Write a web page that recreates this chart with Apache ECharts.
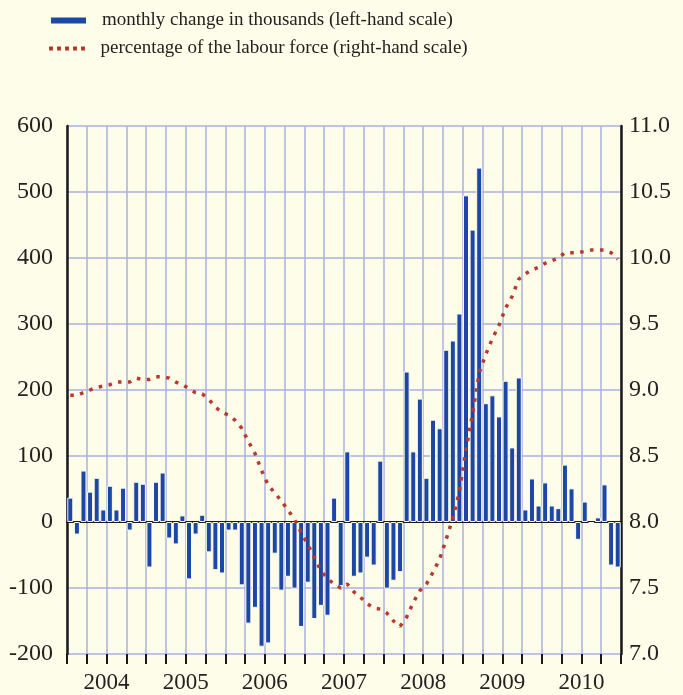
<!DOCTYPE html>
<html>
<head>
<meta charset="utf-8">
<script src="https://cdn.jsdelivr.net/npm/echarts@6/dist/echarts.min.js"></script>
<style>
html, body { margin: 0; padding: 0; background: #fefde9; }
#chart { width: 683px; height: 695px; }
</style>
</head>
<body>
<div id="chart"></div>
<script>
// year labels on the bottom axis
const years = ['2004', '2005', '2006', '2007', '2008', '2009', '2010'];

// one category per month, Jan 2004 .. Dec 2010
const months = [];
years.forEach(function (y) {
  for (let m = 1; m <= 12; m++) months.push(y + '-' + (m < 10 ? '0' + m : m));
});

// monthly change in thousands (left-hand scale)
const monthlyChange = [
  37, -19, 78, 46, 67, 19, 55, 19, 52, -13, 61, 58,
  -69, 61, 75, -25, -34, 10, -87, -19, 11, -46, -73, -78,
  -13, -13, -96, -154, -130, -189, -184, -48, -104, -83, -101, -159,
  -92, -147, -127, -142, 37, -97, 107, -83, -78, -54, -66, 93,
  -101, -89, -76, 228, 107, 187, 67, 155, 142, 261, 275, 316,
  495, 443, 537, 180, 192, 160, 214, 113, 219, 19, 66, 25,
  60, 25, 21, 87, 51, -27, 31, -3, 7, 57, -66, -69
];

// percentage of the labour force (right-hand scale)
const labourForcePct = [
  8.96, 8.96, 8.98, 9.00, 9.02, 9.03, 9.04, 9.06, 9.06, 9.06, 9.09, 9.08,
  9.08, 9.10, 9.10, 9.09, 9.06, 9.04, 9.01, 8.98, 8.97, 8.93, 8.87, 8.83,
  8.81, 8.77, 8.71, 8.61, 8.52, 8.39, 8.28, 8.22, 8.16, 8.09, 8.02, 7.92,
  7.83, 7.73, 7.63, 7.57, 7.53, 7.50, 7.53, 7.47, 7.43, 7.38, 7.35, 7.34,
  7.31, 7.25, 7.21, 7.28, 7.39, 7.48, 7.53, 7.62, 7.72, 7.87, 8.03, 8.23,
  8.55, 8.82, 9.13, 9.27, 9.39, 9.49, 9.62, 9.71, 9.84, 9.88, 9.91, 9.93,
  9.96, 9.98, 10.00, 10.04, 10.04, 10.04, 10.05, 10.06, 10.06, 10.06, 10.04, 9.99
];

const barName = 'monthly change in thousands (left-hand scale)';
const lineName = 'percentage of the labour force (right-hand scale)';

const serif = '"Liberation Serif", "DejaVu Serif", serif';
const gridBlue = '#aab0df';
const ink = '#1a1a1a';
const barBlue = '#1d47a7';
const dotRed = '#b8392f';

// five small squares for the dotted legend key
const dotsIcon = 'path://M0,0h4v4h-4zM8,0h4v4h-4zM16,0h4v4h-4zM24,0h4v4h-4zM32,0h4v4h-4z';

let myChart = echarts.init(document.getElementById('chart'));
myChart.setOption({
  backgroundColor: '#fefde9',
  animation: false,
  legend: [
    {
      left: 49, top: 11, padding: 0,
      itemWidth: 37, itemHeight: 8,
      textStyle: { fontFamily: serif, fontSize: 19, color: '#222', padding: [0, 0, 0, 10] },
      data: [{ name: barName, icon: 'rect' }]
    },
    {
      left: 49, top: 39, padding: 0,
      itemWidth: 37, itemHeight: 4,
      textStyle: { fontFamily: serif, fontSize: 19, color: '#222', padding: [0, 0, 0, 10] },
      data: [{ name: lineName, icon: dotsIcon, itemStyle: { color: dotRed } }]
    }
  ],
  grid: { left: 67, right: 62, top: 126, bottom: 41 },
  xAxis: [
    {
      type: 'category',
      data: months,
      axisLine: { onZero: true, lineStyle: { color: ink, width: 2 } },
      axisTick: { show: false },
      axisLabel: { show: false },
      splitLine: { show: false }
    },
    {
      // quarterly grid and ticks, year labels centred in each year
      type: 'value',
      min: 0,
      max: 84,
      interval: 3,
      position: 'bottom',
      axisLine: { show: false, onZero: false },
      axisTick: { show: true, length: 10, lineStyle: { color: ink, width: 2 } },
      splitLine: { show: true, lineStyle: { color: gridBlue, width: 1.5 } },
      axisLabel: {
        formatter: function (v) { return v % 12 === 6 ? years[(v - 6) / 12] : ''; },
        fontFamily: serif, fontSize: 23, color: '#222', margin: 17
      }
    }
  ],
  yAxis: [
    {
      type: 'value',
      min: -200,
      max: 600,
      interval: 100,
      axisLine: { show: true, lineStyle: { color: ink, width: 2.5 } },
      axisTick: { show: false },
      splitLine: { show: true, lineStyle: { color: gridBlue, width: 1.5 } },
      axisLabel: { fontFamily: serif, fontSize: 24, color: '#222', margin: 14 }
    },
    {
      type: 'value',
      min: 7,
      max: 11,
      interval: 0.5,
      position: 'right',
      axisLine: { show: true, lineStyle: { color: ink, width: 2.5 } },
      axisTick: { show: false },
      splitLine: { show: false },
      axisLabel: {
        formatter: function (v) { return v.toFixed(1); },
        fontFamily: serif, fontSize: 24, color: '#222', margin: 8
      }
    }
  ],
  series: [
    {
      name: barName,
      type: 'bar',
      xAxisIndex: 0,
      yAxisIndex: 0,
      data: monthlyChange,
      barWidth: 6,
      itemStyle: { color: barBlue, borderColor: '#fefde9', borderWidth: 1 }
    },
    {
      name: lineName,
      type: 'line',
      xAxisIndex: 0,
      yAxisIndex: 1,
      data: labourForcePct,
      symbol: 'none',
      z: 5,
      itemStyle: { color: dotRed },
      lineStyle: { color: dotRed, width: 3.5, type: [3.5, 6.5] }
    }
  ]
});
</script>
</body>
</html>
